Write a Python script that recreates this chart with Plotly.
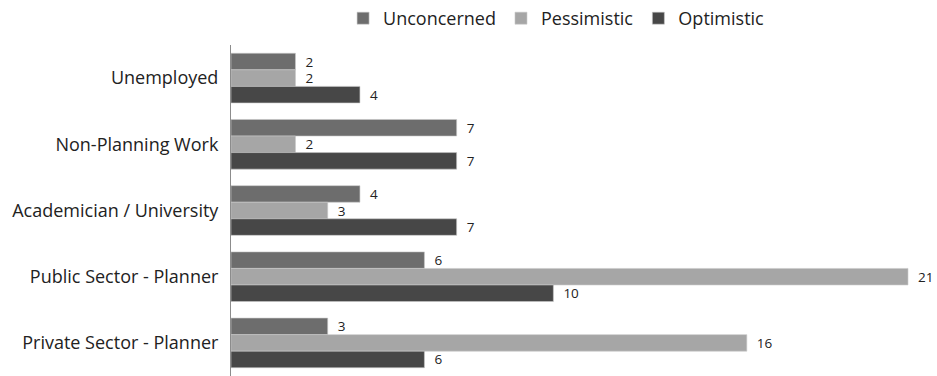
import plotly.graph_objects as go

# Survey responses by employment group
categories = [
    "Unemployed",
    "Non-Planning Work",
    "Academician / University",
    "Public Sector - Planner",
    "Private Sector - Planner",
]
unconcerned = [2, 7, 4, 6, 3]
pessimistic = [2, 2, 3, 21, 16]
optimistic = [4, 7, 7, 10, 6]

series = [
    ("Unconcerned", unconcerned, "#6d6d6d"),
    ("Pessimistic", pessimistic, "#a6a6a6"),
    ("Optimistic", optimistic, "#474747"),
]

FONT = "'Open Sans', sans-serif"

fig = go.Figure()
for name, vals, color in series:
    fig.add_trace(go.Bar(
        y=categories,
        x=vals,
        name=name,
        orientation="h",
        marker=dict(color=color, line=dict(color="#c8c8c8", width=0.6)),
        text=vals,
        texttemplate="  %{x}",
        textposition="outside",
        constraintext="none",
        textfont=dict(size=13.5, color="#222222", family=FONT),
        cliponaxis=False,
    ))

fig.update_layout(
    width=937,
    height=376,
    margin=dict(l=231, r=0, t=45, b=0),
    barmode="group",
    bargap=0.25,
    bargroupgap=0.0,
    plot_bgcolor="white",
    paper_bgcolor="white",
    font=dict(family=FONT, color="#222222"),
    legend=dict(
        orientation="h",
        xref="container",
        yref="container",
        x=0.594,
        xanchor="center",
        y=1.0,
        yanchor="top",
        font=dict(size=18, family=FONT, color="#222222"),
        itemwidth=30,
    ),
    xaxis=dict(
        range=[0, 21.9],
        showticklabels=False,
        showgrid=False,
        zeroline=False,
        showline=False,
        ticks="",
    ),
    yaxis=dict(
        autorange="reversed",
        showgrid=False,
        showline=True,
        linecolor="#8c8c8c",
        linewidth=1,
        ticks="",
        ticklabelstandoff=8,
        tickfont=dict(size=18, family=FONT, color="#222222"),
    ),
)

fig.write_html("out.html")
